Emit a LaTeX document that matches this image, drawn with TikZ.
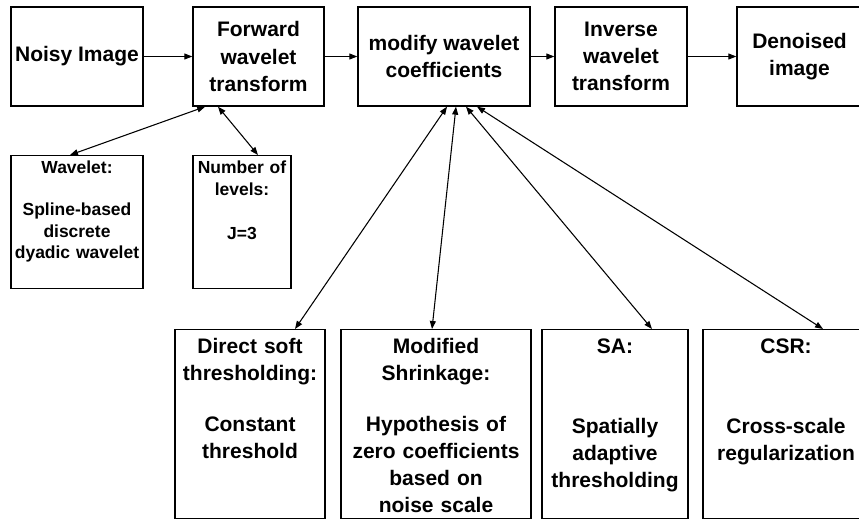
\documentclass[tikz,border=0pt]{standalone}
\usepackage{fontspec}
\setmainfont{Liberation Sans}
\usetikzlibrary{arrows.meta}

\begin{document}
\begin{tikzpicture} [x=0.75pt,y=-0.75pt,mybox/.style={rectangle, draw, line width=1pt, inner sep=0pt, align=center, minimum height=74.25pt, font=\fontsize{15.75}{20.3}\selectfont\bfseries},mybox1/.style={rectangle, draw, line width=1pt, inner sep=0pt, align=center, anchor=north, text height=13.5pt, text depth=86.25pt, font=\fontsize{13.1}{16.1}\selectfont\bfseries},mybox2/.style={rectangle, draw, line width=1pt, inner sep=0pt, align=center, anchor=north, text height=18pt, text depth=123.75pt, font=\fontsize{15.75}{20.3}\selectfont\bfseries},myarrow/.style={line width=0.8pt, -{Triangle[length=6pt,width=4.5pt]}},myarrow1/.style={line width=0.8pt, {Triangle[length=6pt,width=4.5pt]}-{Triangle[length=6pt,width=4.5pt]}}]
  \clip (0,0) rectangle (859,521);

  \node[mybox, minimum width=99pt] (noisy) at (77,56.5) {Noisy Image};
  \node[mybox, minimum width=98.25pt] (fwd) at (258.5,56.5) {Forward\\wavelet\\transform};
  \node[mybox, minimum width=129pt] (modify) at (444,56.5) {modify wavelet\\coefficients};
  \node[mybox, minimum width=99pt] (inverse) at (621,56.5) {Inverse\\wavelet\\transform};
  \node[mybox, minimum width=93.75pt] (denoised) at (799.5,56.5) {Denoised\\image};

  \node[mybox1, text width=99pt] (wavelet) at (77,155) {Wavelet:\\[15.4pt]Spline-based\\discrete\\dyadic wavelet};
  \node[mybox1, text width=73.5pt] (levels) at (242,155) {Number of\\levels:\\[17pt]J=3};

  \node[mybox2, text width=112.5pt] (direct) at (250,329) {Direct soft\\thresholding:\\[17.6pt]Constant\\threshold};
  \node[mybox2, text width=142.5pt] (shrink) at (436,329) {Modified\\Shrinkage:\\[17.6pt]Hypothesis of\\zero coefficients\\based on\\noise scale};
  \node[mybox2, text width=109.5pt] (sa) at (615,329) {SA:\\[39.4pt]Spatially\\adaptive\\thresholding};
  \node[mybox2, text width=124.5pt] (csr) at (786,329) {CSR:\\[39.4pt]Cross-scale\\regularization};

    \draw[myarrow] (noisy) -- (fwd);
    \draw[myarrow] (fwd) -- (modify);
    \draw[myarrow] (modify) -- (inverse);
    \draw[myarrow] (inverse) -- (denoised);
    \draw[myarrow1] ([xshift=-40pt]fwd.south) -- ([xshift=-5.25pt]wavelet.north);
    \draw[myarrow1] ([xshift=-30.4pt]fwd.south) -- ([xshift=12pt]levels.north);
    \draw[myarrow1] ([xshift=2.25pt]modify.south) -- ([xshift=33.75pt]direct.north);
    \draw[myarrow1] ([xshift=9pt]modify.south) -- ([xshift=-3pt]shrink.north);
    \draw[myarrow1] ([xshift=16.5pt]modify.south) -- ([xshift=27.75pt]sa.north);
    \draw[myarrow1] ([xshift=24.75pt]modify.south) -- ([xshift=27.75pt]csr.north);

\end{tikzpicture}
\end{document}
